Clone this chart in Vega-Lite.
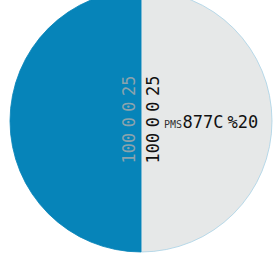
{
  "$schema": "https://vega.github.io/schema/vega-lite/v6.json",
  "width": 282,
  "height": 242,
  "autosize": {"type": "none"},
  "padding": {"left": 0, "top": 0, "right": 0, "bottom": 40},
  "background": "white",
  "config": {"view": {"stroke": null}},
  "layer": [
    {
      "data": {"values": [{"part": "light", "value": 50}, {"part": "navy", "value": 50}]},
      "mark": {"type": "arc", "radius": 131, "strokeWidth": 0.8},
      "encoding": {
        "theta": {"field": "value", "type": "quantitative", "stack": true},
        "color": {"field": "part", "type": "nominal", "scale": {"domain": ["light", "navy"], "range": ["#e6e8e8", "#0684b9"]}, "legend": null},
        "stroke": {"field": "part", "type": "nominal", "scale": {"domain": ["light", "navy"], "range": ["#a8d2e6", "#0684b9"]}, "legend": null}
      }
    },
    {"data": {"values": [{"label": "100"}]}, "mark": {"type": "text", "angle": 270, "font": "DejaVu Sans Mono", "fontSize": 17, "color": "#8ba3ad", "align": "center", "baseline": "middle", "dx": -27.2, "dy": -10.7}, "encoding": {"text": {"field": "label"}}},
    {"data": {"values": [{"label": "0"}]}, "mark": {"type": "text", "angle": 270, "font": "DejaVu Sans Mono", "fontSize": 17, "color": "#8ba3ad", "align": "center", "baseline": "middle", "dx": -1.2, "dy": -10.7}, "encoding": {"text": {"field": "label"}}},
    {"data": {"values": [{"label": "0"}]}, "mark": {"type": "text", "angle": 270, "font": "DejaVu Sans Mono", "fontSize": 17, "color": "#8ba3ad", "align": "center", "baseline": "middle", "dx": 14.5, "dy": -10.7}, "encoding": {"text": {"field": "label"}}},
    {"data": {"values": [{"label": "25"}]}, "mark": {"type": "text", "angle": 270, "font": "DejaVu Sans Mono", "fontSize": 17, "color": "#8ba3ad", "align": "center", "baseline": "middle", "dx": 35.3, "dy": -10.7}, "encoding": {"text": {"field": "label"}}},
    {"data": {"values": [{"label": "100"}]}, "mark": {"type": "text", "angle": 270, "font": "DejaVu Sans Mono", "fontSize": 17, "color": "#111111", "align": "center", "baseline": "middle", "dx": -27.2, "dy": 12.7}, "encoding": {"text": {"field": "label"}}},
    {"data": {"values": [{"label": "0"}]}, "mark": {"type": "text", "angle": 270, "font": "DejaVu Sans Mono", "fontSize": 17, "color": "#111111", "align": "center", "baseline": "middle", "dx": -1.2, "dy": 12.7}, "encoding": {"text": {"field": "label"}}},
    {"data": {"values": [{"label": "0"}]}, "mark": {"type": "text", "angle": 270, "font": "DejaVu Sans Mono", "fontSize": 17, "color": "#111111", "align": "center", "baseline": "middle", "dx": 14.5, "dy": 12.7}, "encoding": {"text": {"field": "label"}}},
    {"data": {"values": [{"label": "25"}]}, "mark": {"type": "text", "angle": 270, "font": "DejaVu Sans Mono", "fontSize": 17, "color": "#111111", "align": "center", "baseline": "middle", "dx": 35.3, "dy": 12.7}, "encoding": {"text": {"field": "label"}}},
    {"data": {"values": [{"label": "PMS"}]}, "mark": {"type": "text", "font": "DejaVu Sans Mono", "fontSize": 10, "color": "#333333", "align": "left", "baseline": "alphabetic", "dx": 23, "dy": 7}, "encoding": {"text": {"field": "label"}}},
    {"data": {"values": [{"label": "877C"}]}, "mark": {"type": "text", "font": "DejaVu Sans Mono", "fontSize": 17, "color": "#111111", "align": "left", "baseline": "alphabetic", "dx": 41.5, "dy": 7}, "encoding": {"text": {"field": "label"}}},
    {"data": {"values": [{"label": "%20"}]}, "mark": {"type": "text", "font": "DejaVu Sans Mono", "fontSize": 17, "color": "#111111", "align": "left", "baseline": "alphabetic", "dx": 86.5, "dy": 7}, "encoding": {"text": {"field": "label"}}}
  ]
}
